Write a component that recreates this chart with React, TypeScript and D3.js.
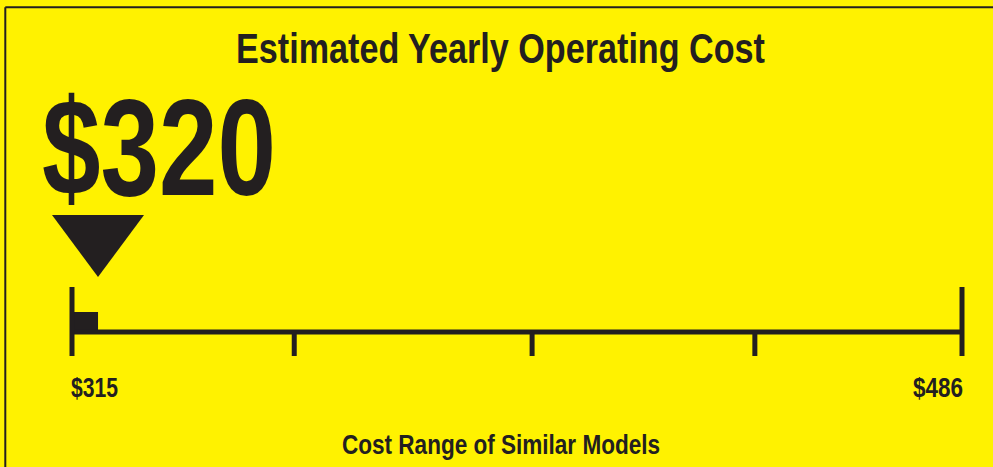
import * as d3 from 'd3';

const rangeLow = 315;
const rangeHigh = 486;
const modelCost = 320;
const innerTicks = [357.7, 403.4, 446.2];
const title = 'Estimated Yearly Operating Cost';
const caption = 'Cost Range of Similar Models';

const W = 993;
const H = 467;
const YELLOW = '#fff200';
const INK = '#231f20';
const FONT = '"Liberation Sans Narrow", "Liberation Sans", Arial, sans-serif';

export default function App() {
  const x = d3.scaleLinear().domain([rangeLow, rangeHigh]).range([72, 962]);
  const axisY = 332;
  const fmt = (v: number) => `$${d3.format('d')(v)}`;

  const tri = d3.path();
  const tx = x(modelCost);
  tri.moveTo(tx - 46, 215);
  tri.lineTo(tx + 46, 215);
  tri.lineTo(tx, 277);
  tri.closePath();

  return (
    <svg
      width={W}
      height={H}
      viewBox={`0 0 ${W} ${H}`}
      style={{ position: 'fixed', left: 0, top: 0, display: 'block' }}
    >
      <rect width={W} height={H} fill={YELLOW} />
      {/* label border */}
      <line x1={5.3} x2={W + 5} y1={7.2} y2={7.2} stroke={INK} strokeWidth={2} />
      <line x1={5.3} x2={5.3} y1={7.2} y2={H + 5} stroke={INK} strokeWidth={2} />

      <text
        x={500.5}
        y={62.5}
        textAnchor="middle"
        fontFamily={FONT}
        fontWeight="bold"
        fontSize={43}
        fill={INK}
        textLength={529}
        lengthAdjust="spacingAndGlyphs"
      >
        {title}
      </text>

      <text
        x={42}
        y={195}
        fontFamily={FONT}
        fontWeight="bold"
        fontSize={137}
        fill={INK}
        textLength={234}
        lengthAdjust="spacingAndGlyphs"
      >
        {fmt(modelCost)}
      </text>

      <path d={tri.toString()} fill={INK} />

      {/* range scale */}
      <rect
        x={x(rangeLow)}
        y={312}
        width={x(modelCost) - x(rangeLow)}
        height={axisY - 312}
        fill={INK}
      />
      <line x1={x(rangeLow)} x2={x(rangeHigh)} y1={axisY} y2={axisY} stroke={INK} strokeWidth={5} />
      {[rangeLow, rangeHigh].map(v => (
        <line key={v} x1={x(v)} x2={x(v)} y1={287} y2={356} stroke={INK} strokeWidth={5} />
      ))}
      {innerTicks.map(v => (
        <line key={v} x1={x(v)} x2={x(v)} y1={axisY} y2={356} stroke={INK} strokeWidth={5} />
      ))}

      <text
        x={x(rangeLow) - 1}
        y={397}
        fontFamily={FONT}
        fontWeight="bold"
        fontSize={27}
        fill={INK}
        textLength={47}
        lengthAdjust="spacingAndGlyphs"
      >
        {fmt(rangeLow)}
      </text>
      <text
        x={x(rangeHigh) + 1}
        y={397}
        textAnchor="end"
        fontFamily={FONT}
        fontWeight="bold"
        fontSize={27}
        fill={INK}
        textLength={50}
        lengthAdjust="spacingAndGlyphs"
      >
        {fmt(rangeHigh)}
      </text>

      <text
        x={501}
        y={453.5}
        textAnchor="middle"
        fontFamily={FONT}
        fontWeight="bold"
        fontSize={27}
        fill={INK}
        textLength={318}
        lengthAdjust="spacingAndGlyphs"
      >
        {caption}
      </text>
    </svg>
  );
}
